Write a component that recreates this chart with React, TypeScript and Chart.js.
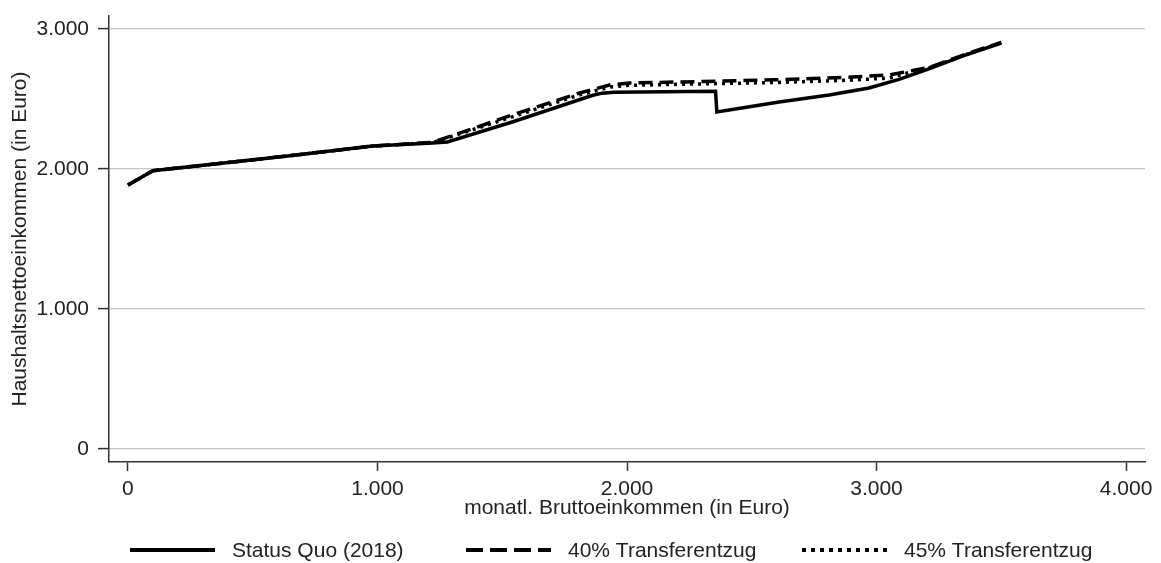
import React, { useEffect, useRef } from 'react';
import { Chart, registerables } from 'chart.js';

Chart.register(...registerables);

const seriesLabels = ['Status Quo (2018)', '40% Transferentzug', '45% Transferentzug'];

const statusQuoIncome = [0, 100, 640, 980, 1220, 1280, 1540, 1860, 1900, 1950, 2355, 2360, 2610, 2810, 2970, 3090, 3210, 3350, 3500];
const statusQuoNet = [1886, 1988, 2093, 2164, 2186, 2193, 2336, 2525, 2542, 2548, 2555, 2407, 2479, 2529, 2579, 2640, 2715, 2810, 2900];

const t40Income = [0, 100, 640, 980, 1220, 1540, 1810, 1930, 2010, 2300, 2590, 2900, 3050, 3150, 3210, 3350, 3500];
const t40Net = [1886, 1988, 2093, 2164, 2190, 2386, 2543, 2600, 2614, 2625, 2637, 2657, 2672, 2705, 2725, 2815, 2905];

const t45Income = [0, 100, 640, 980, 1220, 1540, 1810, 1930, 2010, 2300, 2590, 2900, 3050, 3150, 3210, 3350, 3500];
const t45Net = [1886, 1988, 2093, 2164, 2188, 2372, 2530, 2585, 2598, 2608, 2618, 2635, 2650, 2700, 2722, 2812, 2902];

const xTickValues = [0, 1000, 2000, 3000, 4000];
const xTickLabels = ['0', '1.000', '2.000', '3.000', '4.000'];
const yTickValues = [0, 1000, 2000, 3000];
const yTickLabels = ['0', '1.000', '2.000', '3.000'];

const xTitle = 'monatl. Bruttoeinkommen (in Euro)';
const yTitle = 'Haushaltsnettoeinkommen (in Euro)';

const FONT = '"Liberation Sans", Arial, sans-serif';
const TEXT = '#222222';
const FS = 21;

const toPoints = (xs: number[], ys: number[]) => xs.map((x, i) => ({ x, y: ys[i] }));

const legendDashes = [[], [17, 7], [4, 5]];

const legendPlugin = {
  id: 'customLegend',
  afterDraw(chart: any) {
    const ctx = chart.ctx;
    const y = 550;
    chart.data.datasets.forEach((ds: any, i: number) => {
      const x0 = 130 + i * 336;
      ctx.save();
      ctx.strokeStyle = ds.borderColor;
      ctx.lineWidth = 4;
      ctx.setLineDash(legendDashes[i]);
      ctx.beginPath();
      ctx.moveTo(x0, y);
      ctx.lineTo(x0 + 85, y);
      ctx.stroke();
      ctx.setLineDash([]);
      ctx.fillStyle = TEXT;
      ctx.font = `${FS}px ${FONT}`;
      ctx.textBaseline = 'middle';
      ctx.textAlign = 'left';
      ctx.fillText(ds.label, x0 + 102, y + 1);
      ctx.restore();
    });
  },
};

export default function App() {
  const canvasRef = useRef<HTMLCanvasElement | null>(null);

  useEffect(() => {
    document.body.style.margin = '0';
    const canvas = canvasRef.current;
    if (!canvas) return;
    const chart = new Chart(canvas, {
      type: 'line',
      data: {
        datasets: [
          {
            label: seriesLabels[0],
            data: toPoints(statusQuoIncome, statusQuoNet),
            borderColor: '#000000',
            borderWidth: 3.5,
            pointRadius: 0,
            tension: 0,
            fill: false,
          },
          {
            label: seriesLabels[1],
            data: toPoints(t40Income, t40Net),
            borderColor: '#000000',
            borderWidth: 3.5,
            borderDash: [14, 7],
            pointRadius: 0,
            tension: 0,
            fill: false,
          },
          {
            label: seriesLabels[2],
            data: toPoints(t45Income, t45Net),
            borderColor: '#000000',
            borderWidth: 3.5,
            borderDash: [3, 5],
            pointRadius: 0,
            tension: 0,
            fill: false,
          },
        ],
      },
      options: {
        animation: false,
        responsive: false,
        devicePixelRatio: 1,
        layout: { padding: { left: 0, top: 16, right: 16, bottom: 40 } },
        plugins: {
          legend: { display: false },
          tooltip: { enabled: false },
        },
        scales: {
          x: {
            type: 'linear',
            min: -76,
            max: 4076,
            afterBuildTicks: (axis: any) => {
              axis.ticks = xTickValues.map((v) => ({ value: v }));
            },
            afterFit: (axis: any) => {
              axis.height = 61;
              axis.paddingLeft = 0;
              axis.paddingRight = 0;
            },
            grid: {
              drawOnChartArea: false,
              drawTicks: true,
              tickLength: 9,
              tickColor: '#333333',
              tickWidth: 1.5,
            },
            border: { display: true, color: '#333333', width: 1.5 },
            ticks: {
              padding: 6,
              color: TEXT,
              font: { family: FONT, size: FS },
              maxRotation: 0,
              callback: (value: any) => {
                const i = xTickValues.indexOf(Number(value));
                return i >= 0 ? xTickLabels[i] : '';
              },
            },
            title: {
              display: true,
              text: xTitle,
              color: TEXT,
              font: { family: FONT, size: FS },
              padding: { top: 0, bottom: 2 },
            },
          },
          y: {
            type: 'linear',
            min: -93,
            max: 3093,
            afterBuildTicks: (axis: any) => {
              axis.ticks = yTickValues.map((v) => ({ value: v }));
            },
            afterFit: (axis: any) => {
              axis.width = 109;
              axis.paddingTop = 0;
              axis.paddingBottom = 0;
            },
            grid: {
              drawOnChartArea: true,
              drawTicks: true,
              tickLength: 11,
              color: '#c4c4c4',
              lineWidth: 1.2,
              tickColor: '#333333',
              tickWidth: 1.5,
            },
            border: { display: true, color: '#333333', width: 1.5 },
            ticks: {
              padding: 9,
              color: TEXT,
              font: { family: FONT, size: FS },
              callback: (value: any) => {
                const i = yTickValues.indexOf(Number(value));
                return i >= 0 ? yTickLabels[i] : '';
              },
            },
            title: {
              display: true,
              text: yTitle,
              color: TEXT,
              font: { family: FONT, size: FS },
              padding: { top: 8, bottom: 0 },
            },
          },
        },
      },
      plugins: [legendPlugin],
    });
    return () => chart.destroy();
  }, []);

  return (
    <div style={{ position: 'absolute', left: 0, top: 0, width: 1161, height: 563, background: '#ffffff' }}>
      <canvas ref={canvasRef} width={1161} height={563} style={{ display: 'block' }} />
    </div>
  );
}
